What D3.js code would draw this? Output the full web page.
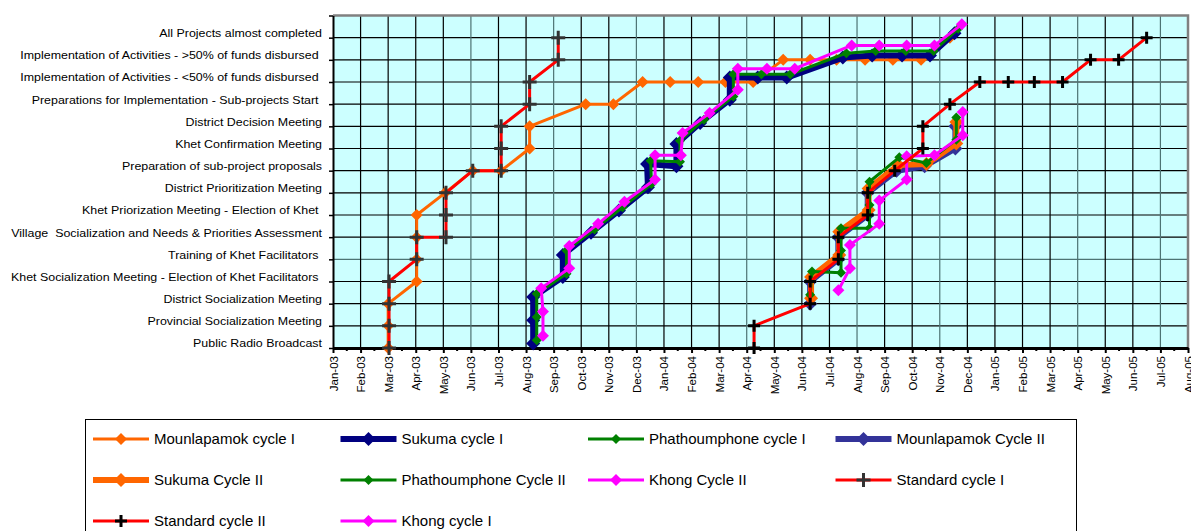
<!DOCTYPE html>
<html>
<head>
<meta charset="utf-8">
<script src="https://cdn.jsdelivr.net/npm/d3@7"></script>
<style>
body { margin: 0; background: #fff; }
text { font-family: "Liberation Sans", Arial, sans-serif; fill: #000; white-space: pre; }
</style>
</head>
<body>
<script>
// steps of the cycle, bottom to top
var steps = [
  "Public Radio Broadcast",
  "Provincial Socialization Meeting",
  "District Socialization Meeting",
  "Khet Socialization Meeting - Election of Khet Facilitators ",
  "Training of Khet Facilitators ",
  "Village  Socialization and Needs & Priorities Assessment",
  "Khet Priorization Meeting - Election of Khet ",
  "District Prioritization Meeting",
  "Preparation of sub-project proposals",
  "Khet Confirmation Meeting",
  "District Decision Meeting",
  "Preparations for Implementation - Sub-projects Start ",
  "Implementation of Activities - <50% of funds disbursed ",
  "Implementation of Activities - >50% of funds disbursed ",
  "All Projects almost completed"
];

var monthLabels = ["Jan-03","Feb-03","Mar-03","Apr-03","May-03","Jun-03","Jul-03","Aug-03","Sep-03","Oct-03","Nov-03","Dec-03",
  "Jan-04","Feb-04","Mar-04","Apr-04","May-04","Jun-04","Jul-04","Aug-04","Sep-04","Oct-04","Nov-04","Dec-04",
  "Jan-05","Feb-05","Mar-05","Apr-05","May-05","Jun-05","Jul-05","Aug-05"];

// [date, step level]
var mounlapamok1 = [["2003-03-01",0],["2003-03-01",1],["2003-03-01",2],["2003-04-02",3],["2003-04-02",4],["2003-04-02",5],
  ["2003-04-02",6],["2003-05-03",7],["2003-06-03",8],["2003-07-04",8],["2003-08-05",9],["2003-08-05",10],["2003-10-06",11],
  ["2003-11-06",11],["2003-12-08",12],["2004-01-08",12],["2004-02-08",12],["2004-03-08",12],["2004-04-08",12],["2004-05-11",13],
  ["2004-06-10",13],["2004-07-09",13],["2004-08-10",13],["2004-09-10",13],["2004-10-11",13],["2004-11-12",14]];

var sukuma1 = [["2003-08-09",0.2],["2003-08-09",1.25],["2003-08-09",2.3],["2003-09-11",3.2],["2003-09-11",4.2],["2003-10-12",5.2],
  ["2003-11-12",6.2],["2003-12-14",7.25],["2003-12-13",8.3],["2004-01-15",8.2],["2004-01-15",9.2],["2004-02-10",10.15],
  ["2004-03-13",11.2],["2004-03-13",12.2],["2004-04-13",12.2],["2004-05-15",12.2],["2004-07-16",13.1],["2004-08-18",13.2],
  ["2004-09-20",13.2],["2004-10-21",13.2],["2004-11-17",14.2]];

var phathoumphone1 = [["2003-08-13",0.35],["2003-08-13",1.4],["2003-08-13",2.45],["2003-09-15",3.35],["2003-09-15",4.4],
  ["2003-10-16",5.35],["2003-11-16",6.35],["2003-12-18",7.4],["2003-12-17",8.45],["2004-01-19",8.4],["2004-01-19",9.35],
  ["2004-02-14",10.3],["2004-03-17",11.35],["2004-03-17",12.35],["2004-04-17",12.35],["2004-05-19",12.35],["2004-07-20",13.3],
  ["2004-08-22",13.4],["2004-09-24",13.4],["2004-10-25",13.4],["2004-11-21",14.4]];

var mounlapamok2 = [["2004-06-10",2],["2004-06-10",3],["2004-07-11",4],["2004-07-11",5],["2004-08-13",6],["2004-08-13",7],
  ["2004-09-14",8],["2004-10-15",8.2],["2004-11-18",9],["2004-11-18",10]];

var sukuma2 = [["2004-06-11",2.25],["2004-06-11",3.2],["2004-07-12",4.2],["2004-07-12",5.25],["2004-08-14",6.22],["2004-08-14",7.2],
  ["2004-09-16",8.25],["2004-10-17",8.3],["2004-11-19",9.23],["2004-11-19",10.2]];

var phathoumphone2 = [["2004-06-10",2.4],["2004-06-12",3.45],["2004-07-14",3.4],["2004-07-14",4.4],["2004-07-14",5.4],
  ["2004-08-15",5.4],["2004-08-15",6.45],["2004-08-15",7.5],["2004-09-17",8.6],["2004-10-17",8.35],["2004-11-19",9.4],["2004-11-19",10.4]];

var khong2 = [["2004-07-11",2.6],["2004-07-24",3.6],["2004-07-24",4.65],["2004-08-26",5.6],["2004-08-26",6.65],["2004-09-25",7.6],
  ["2004-09-25",8.65],["2004-10-26",8.7],["2004-11-26",9.6],["2004-11-26",10.65]];

var standard1 = [["2003-03-02",0],["2003-03-02",1],["2003-03-02",2],["2003-03-02",3],["2003-04-02",4],["2003-04-02",5],
  ["2003-05-04",5],["2003-05-04",6],["2003-05-04",7],["2003-06-03",8],["2003-07-04",8],["2003-07-04",9],["2003-07-04",10],
  ["2003-08-05",11],["2003-08-05",12],["2003-09-06",13],["2003-09-06",14]];

var standard2 = [["2004-04-09",0],["2004-04-09",1],["2004-06-10",2],["2004-06-10",3],["2004-07-11",4],["2004-07-11",5],
  ["2004-08-13",6],["2004-08-13",7],["2004-09-12",8],["2004-10-13",9],["2004-10-13",10],["2004-11-12",11],["2004-12-15",12],
  ["2005-01-16",12],["2005-02-13",12],["2005-03-15",12],["2005-04-15",13],["2005-05-16",13],["2005-06-16",14]];

var khong1 = [["2003-08-20",0.55],["2003-08-20",1.65],["2003-08-18",2.7],["2003-09-18",3.6],["2003-09-18",4.6],["2003-10-20",5.6],
  ["2003-11-18",6.6],["2003-12-22",7.6],["2003-12-22",8.7],["2004-01-20",8.7],["2004-01-22",9.7],["2004-02-20",10.6],
  ["2004-03-22",11.65],["2004-03-22",12.6],["2004-04-23",12.6],["2004-05-24",12.6],["2004-07-26",13.65],["2004-08-26",13.65],
  ["2004-09-25",13.65],["2004-10-26",13.65],["2004-11-25",14.6]];

// series table, in legend order
var series = [
  {name: "Mounlapamok cycle I",    data: mounlapamok1,   color: "#FF6600", width: 3, marker: "diamond", mcolor: "#FF6600", size: 6},
  {name: "Sukuma cycle I",         data: sukuma1,        color: "#000080", width: 6, marker: "diamond", mcolor: "#000080", size: 7},
  {name: "Phathoumphone cycle I",  data: phathoumphone1, color: "#008000", width: 3, marker: "diamond", mcolor: "#008000", size: 5},
  {name: "Mounlapamok Cycle II",   data: mounlapamok2,   color: "#333399", width: 6, marker: "diamond", mcolor: "#333399", size: 7},
  {name: "Sukuma Cycle II",        data: sukuma2,        color: "#FF6600", width: 6, marker: "diamond", mcolor: "#FF6600", size: 7},
  {name: "Phathoumphone Cycle II", data: phathoumphone2, color: "#008000", width: 3, marker: "diamond", mcolor: "#008000", size: 5},
  {name: "Khong Cycle II",         data: khong2,         color: "#FF00FF", width: 3, marker: "diamond", mcolor: "#FF00FF", size: 6},
  {name: "Standard cycle I",       data: standard1,      color: "#FF0000", width: 3, marker: "plus",    mcolor: "#333333", size: 7},
  {name: "Standard cycle II",      data: standard2,      color: "#FF0000", width: 3, marker: "plus",    mcolor: "#000000", size: 6},
  {name: "Khong cycle I",          data: khong1,         color: "#FF00FF", width: 3, marker: "diamond", mcolor: "#FF00FF", size: 6}
];

// date string -> months since Jan-03 (every month same width, like the excel axis)
function toMonth(s) {
  var p = s.split("-");
  var yr = +p[0], mo = +p[1], dd = +p[2];
  var dim = new Date(yr, mo, 0).getDate();
  return (yr - 2003) * 12 + (mo - 1) + (dd - 1) / dim;
}

function diamond(s) { return "M0," + (-s) + "L" + s + ",0L0," + s + "L" + (-s) + ",0Z"; }
function plus(s) { return "M" + (-s) + ",0H" + s + "M0," + (-s) + "V" + s; }

// stretch text a bit wider, the original picture is squeezed sideways
function stretch(sel, k) {
  sel.each(function() {
    var len = this.getComputedTextLength();
    if (len > 0) d3.select(this).attr("textLength", len * k).attr("lengthAdjust", "spacingAndGlyphs");
  });
}

var width = 1191, height = 531;

var x = d3.scaleLinear().domain([0, 31]).range([333, 1188]);
var y = d3.scaleLinear().domain([0, 15]).range([348, 15.5]);

var svg = d3.select("body").append("svg")
    .attr("width", width)
    .attr("height", height);

// plot area
svg.append("rect")
    .attr("x", x(0)).attr("y", y(15))
    .attr("width", x(31) - x(0)).attr("height", y(0) - y(15))
    .attr("fill", "#CCFFFF");

// gridlines
svg.append("g").selectAll("line")
    .data(d3.range(1, 15))
    .join("line")
    .attr("x1", x(0)).attr("x2", x(31))
    .attr("y1", function(d) { return y(d); })
    .attr("y2", function(d) { return y(d); })
    .attr("stroke", function(d) { return d == 4 ? "#4d7373" : "#000"; })
    .attr("stroke-width", 1.2);

var grayMonths = [5, 8, 11, 15, 19, 22, 27, 30];
svg.append("g").selectAll("line")
    .data(d3.range(1, 31))
    .join("line")
    .attr("x1", function(d) { return x(d); })
    .attr("x2", function(d) { return x(d); })
    .attr("y1", y(0)).attr("y2", y(15))
    .attr("stroke", function(d) { return grayMonths.indexOf(d) >= 0 ? "#4d7373" : "#000"; })
    .attr("stroke-width", 1.2);

// top and right border
svg.append("path")
    .attr("d", "M" + x(0) + "," + y(15) + "H" + x(31) + "V" + y(0))
    .attr("fill", "none")
    .attr("stroke", "#808080")
    .attr("stroke-width", 2.5);

// x axis
var xAxis = svg.append("g")
    .attr("transform", "translate(0," + y(0) + ")")
    .call(d3.axisBottom(x)
      .tickValues(d3.range(32))
      .tickFormat(function(i) { return monthLabels[i]; })
      .tickSize(5)
      .tickSizeOuter(0));
xAxis.select(".domain").attr("stroke", "#000").attr("stroke-width", 3);
xAxis.selectAll(".tick line").attr("stroke", "#000").attr("stroke-width", 2);
xAxis.selectAll("text")
    .attr("transform", "rotate(-90)")
    .attr("text-anchor", "end")
    .attr("x", -8)
    .attr("y", 0)
    .attr("dy", "0.35em")
    .style("font-size", "11.5px")
    .style("font-family", "'Liberation Sans', Arial, sans-serif");

// minor ticks
svg.append("g").selectAll("line")
    .data(d3.range(0, 31))
    .join("line")
    .attr("x1", function(d) { return x(d + 0.5); })
    .attr("x2", function(d) { return x(d + 0.5); })
    .attr("y1", y(0)).attr("y2", y(0) + 3)
    .attr("stroke", "#000")
    .attr("stroke-width", 2);

// y axis
var yAxis = svg.append("g")
    .attr("transform", "translate(" + x(0) + ",0)")
    .call(d3.axisLeft(y)
      .tickValues(d3.range(16))
      .tickFormat(function(i) { return i < steps.length ? steps[i] : ""; })
      .tickSize(4)
      .tickPadding(7)
      .tickSizeOuter(0));
yAxis.select(".domain").attr("stroke", "#000").attr("stroke-width", 2);
yAxis.selectAll(".tick line").attr("stroke", "#000").attr("stroke-width", 1.5);
yAxis.selectAll("text")
    .attr("dy", "-0.1em")
    .style("font-size", "11.6px")
    .style("font-family", "'Liberation Sans', Arial, sans-serif");
stretch(yAxis.selectAll("text"), 1.07);

// series
var line = d3.line()
    .x(function(d) { return x(toMonth(d[0])); })
    .y(function(d) { return y(d[1]); });

series.forEach(function(s) {
  var g = svg.append("g");
  g.append("path")
      .datum(s.data)
      .attr("d", line)
      .attr("fill", "none")
      .attr("stroke", s.color)
      .attr("stroke-width", s.width)
      .attr("stroke-linejoin", "round");
  var m = g.selectAll(".mark")
      .data(s.data)
      .join("path")
      .attr("class", "mark")
      .attr("transform", function(d) { return "translate(" + x(toMonth(d[0])) + "," + y(d[1]) + ")"; });
  if (s.marker == "diamond") {
    m.attr("d", diamond(s.size)).attr("fill", s.mcolor);
  } else {
    m.attr("d", plus(s.size)).attr("fill", "none").attr("stroke", s.mcolor).attr("stroke-width", 3);
  }
});

// legend
var legend = svg.append("g");
legend.append("rect")
    .attr("x", 85.5).attr("y", 419.5)
    .attr("width", 991).attr("height", 140)
    .attr("fill", "#fff")
    .attr("stroke", "#000")
    .attr("stroke-width", 1);

var items = legend.selectAll(".item")
    .data(series)
    .join("g")
    .attr("class", "item")
    .attr("transform", function(d, i) { return "translate(" + (93 + (i % 4) * 247.5) + "," + (439 + Math.floor(i / 4) * 41) + ")"; });

items.append("line")
    .attr("x1", 0).attr("x2", 56)
    .attr("stroke", function(d) { return d.color; })
    .attr("stroke-width", function(d) { return d.width; });

items.append("path")
    .attr("transform", "translate(28,0)")
    .attr("d", function(d) { return d.marker == "diamond" ? diamond(d.size) : plus(d.size); })
    .attr("fill", function(d) { return d.marker == "diamond" ? d.mcolor : "none"; })
    .attr("stroke", function(d) { return d.marker == "diamond" ? "none" : d.mcolor; })
    .attr("stroke-width", 3);

var ltext = items.append("text")
    .attr("x", 61)
    .attr("dy", "0.35em")
    .style("font-size", "15px")
    .text(function(d) { return d.name; });
stretch(ltext, 1.0);
</script>
</body>
</html>
